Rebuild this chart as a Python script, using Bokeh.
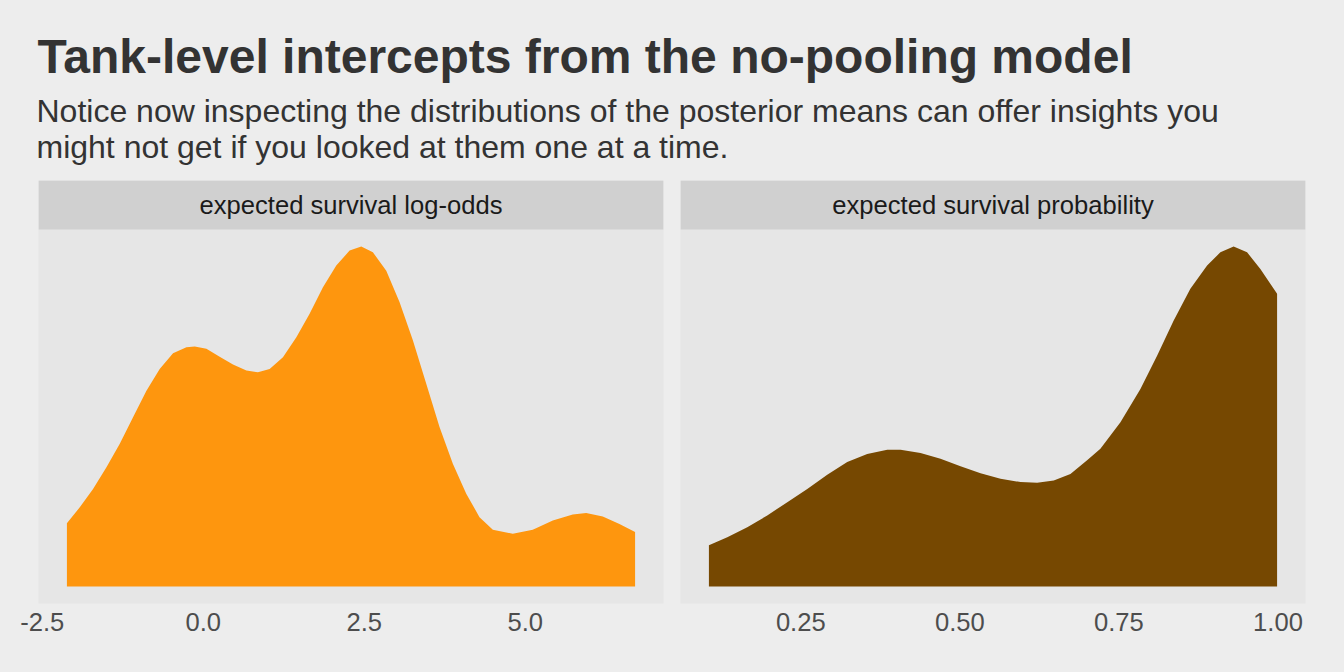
from bokeh.plotting import figure
from bokeh.models import Range1d, Label, BoxAnnotation, FixedTicker, NumeralTickFormatter
from bokeh.layouts import column, row
from bokeh.embed import file_html
from bokeh.resources import INLINE

# ---------------- data ----------------
logodds_x = [-2.118, -1.918, -1.712, -1.504, -1.297, -1.091, -0.883, -0.677, -0.470, -0.262,
             -0.133, 0.048, 0.254, 0.461, 0.669, 0.849, 1.030, 1.237, 1.445, 1.651,
             1.858, 2.065, 2.272, 2.453, 2.633, 2.841, 3.048, 3.254, 3.462, 3.668,
             3.875, 4.083, 4.289, 4.496, 4.806, 5.116, 5.427, 5.737, 5.945, 6.203,
             6.462, 6.705]
logodds_dens = [0.186, 0.233, 0.287, 0.351, 0.420, 0.498, 0.576, 0.640, 0.686, 0.704,
                0.706, 0.699, 0.676, 0.653, 0.635, 0.630, 0.640, 0.674, 0.733, 0.802,
                0.880, 0.944, 0.988, 1.000, 0.983, 0.929, 0.836, 0.724, 0.596, 0.469,
                0.361, 0.273, 0.204, 0.167, 0.155, 0.167, 0.194, 0.212, 0.216, 0.206,
                0.184, 0.160]

prob_x = [0.1056, 0.1345, 0.1659, 0.1973, 0.2288, 0.2602, 0.2916, 0.3230, 0.3544, 0.3859,
          0.4068, 0.4382, 0.4696, 0.5010, 0.5325, 0.5639, 0.5953, 0.6215, 0.6476, 0.6738,
          0.7000, 0.7209, 0.7524, 0.7838, 0.8100, 0.8361, 0.8623, 0.8886, 0.9095, 0.9303,
          0.9514, 0.9723, 0.9986]
prob_dens = [0.121, 0.145, 0.174, 0.209, 0.248, 0.287, 0.329, 0.366, 0.390, 0.402,
             0.402, 0.393, 0.376, 0.354, 0.333, 0.317, 0.307, 0.305, 0.312, 0.331,
             0.371, 0.405, 0.483, 0.581, 0.679, 0.782, 0.876, 0.944, 0.983, 1.000,
             0.983, 0.934, 0.861]

panel_titles = ["expected survival log-odds", "expected survival probability"]
logodds_ticks = [-2.5, 0.0, 2.5, 5.0]
prob_ticks = [0.25, 0.50, 0.75, 1.00]

title_text = "Tank-level intercepts from the no-pooling model"
subtitle_lines = ["Notice now inspecting the distributions of the posterior means can offer insights you",
                  "might not get if you looked at them one at a time."]

# ---------------- styling ----------------
FONT = "Liberation Sans"
BG = "#EDEDED"
PANEL = "#E6E6E6"
STRIP = "#D0D0D0"
TXT = "#333333"
W, H = 1344, 672
HEADER_H = 180

# header
header = figure(width=W, height=HEADER_H, x_range=Range1d(0, W), y_range=Range1d(HEADER_H, 0),
                min_border=0, toolbar_location=None, output_backend="svg",
                x_axis_location=None, y_axis_location=None,
                background_fill_color=BG, border_fill_color=BG, outline_line_color=None)
header.grid.visible = False
header.add_layout(Label(x=37, y=56, text=title_text, text_font=FONT, text_font_size="48px",
                        text_font_style="bold", text_color=TXT, text_baseline="alphabetic"))
for i, line in enumerate(subtitle_lines):
    header.add_layout(Label(x=36, y=110.5 + 36 * i, text=line, text_font=FONT,
                            text_font_size="32px", text_color=TXT, text_baseline="alphabetic"))

STRIP_FRAC = 49 / 374 * 1.1


def panel(xs, ys, color, title, ticks, fmt, left_border, right_border):
    lo, hi = min(xs), max(xs)
    pad = (hi - lo) * 0.05
    ymax = max(ys)
    y0, y1 = -0.05 * ymax, 1.05 * ymax
    p = figure(width=W // 2, height=H - HEADER_H, x_range=Range1d(lo - pad, hi + pad),
               y_range=Range1d(y0, y1 + STRIP_FRAC * ymax),
               toolbar_location=None, output_backend="svg", y_axis_location=None,
               min_border_left=left_border, min_border_right=right_border,
               min_border_top=0, min_border_bottom=69,
               background_fill_color=PANEL, border_fill_color=BG, outline_line_color=None)
    p.grid.visible = False
    p.varea(x=xs, y1=0, y2=ys, fill_color=color, fill_alpha=1)
    p.add_layout(BoxAnnotation(bottom=y1, fill_color=STRIP, fill_alpha=1, line_alpha=0))
    p.add_layout(Label(x=(lo + hi) / 2, y=y1 + STRIP_FRAC * ymax / 2, text=title,
                       text_font=FONT, text_font_size="25.6px", text_color="#1A1A1A",
                       text_align="center", text_baseline="middle"))
    ax = p.xaxis[0]
    ax.ticker = FixedTicker(ticks=ticks, minor_ticks=[])
    ax.formatter = NumeralTickFormatter(format=fmt)
    ax.axis_line_color = None
    ax.major_tick_line_color = None
    ax.minor_tick_line_color = None
    ax.major_label_text_font = FONT
    ax.major_label_text_font_size = "25.6px"
    ax.major_label_text_color = "#4D4D4D"
    ax.major_label_standoff = 3
    return p


left = panel(logodds_x, logodds_dens, "#FE960E", panel_titles[0], logodds_ticks, "0.0", 38, 9)
right = panel(prob_x, prob_dens, "#764801", panel_titles[1], prob_ticks, "0.00", 8, 39)

layout = column(header, row(left, right, spacing=0), spacing=0)

html = file_html(layout, INLINE)
html = html.replace("</head>",
                    "<style>html,body{background:#EDEDED;margin:0;padding:0;}</style></head>", 1)
open("out.html", "w").write(html)
